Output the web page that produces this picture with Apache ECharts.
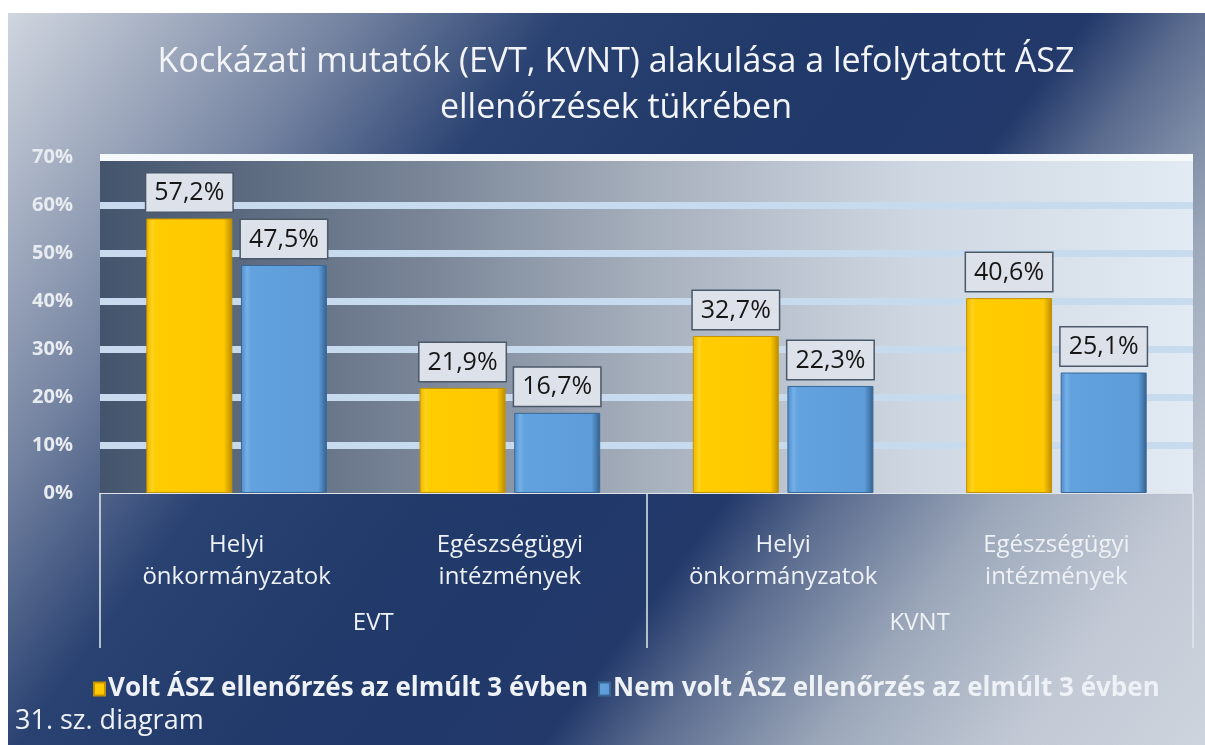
<!DOCTYPE html>
<html>
<head>
<meta charset="utf-8">
<script src="https://cdn.jsdelivr.net/npm/echarts@6/dist/echarts.min.js"></script>
<style>
  html, body { margin: 0; padding: 0; background: #fff; }
  /* panel háttér: átlós gradiens, bal fent világos, középen sötétkék, jobbra lent világos */
  #panel {
    position: absolute; left: 8px; top: 13px; width: 1197px; height: 732px;
    background: linear-gradient(126.9deg, #d0d6df 0%, #7382a0 20%, #2a4272 32%, #213a6a 45%, #22396a 62%, #5b6c8f 68%, #9ca8ba 78%, #c2c9d5 89%, #ced4dd 100%);
  }
  #chart { position: absolute; left: 0; top: 0; width: 1205px; height: 745px; }
</style>
</head>
<body>
<div id="panel"></div>
<div id="chart"></div>
<script>
// kategóriák (alsó szint) és csoportok (felső szint)
const categories = ['Helyi\nönkormányzatok', 'Egészségügyi\nintézmények', 'Helyi\nönkormányzatok', 'Egészségügyi\nintézmények']
const groups = ['EVT', 'KVNT']
const seriesNames = ['Volt ÁSZ ellenőrzés az elmúlt 3 évben', 'Nem volt ÁSZ ellenőrzés az elmúlt 3 évben']
const voltValues = [57.2, 21.9, 32.7, 40.6]
const nemVoltValues = [47.5, 16.7, 22.3, 25.1]
const yTicks = [0, 10, 20, 30, 40, 50, 60, 70]

const TXT = '#eef1f5'
const FONT = '"Open Sans", Lato, sans-serif'
const grad = (stops, x2 = 1, y2 = 0) => new echarts.graphic.LinearGradient(0, 0, x2, y2,
  stops.map(([offset, color]) => ({ offset, color })))

// "kidomborodó" oszlop imitáció: sötétebb szélek
const YELLOW = grad([[0, '#e9b400'], [0.07, '#ffd21c'], [0.12, '#ffcc00'], [0.9, '#ffc800'], [1, '#b98a00']])
const BLUE = grad([[0, '#4d8bc8'], [0.07, '#74b0e8'], [0.12, '#62a2de'], [0.9, '#5d9cd8'], [1, '#335f8e']])

const chart = echarts.init(document.getElementById('chart'), null, { renderer: 'canvas' })

const label = {
  show: true, position: 'top', distance: 7,
  formatter: p => p.value.toFixed(1).replace('.', ',') + '%',
  fontFamily: FONT, fontSize: 25, color: '#161616',
  backgroundColor: '#dde1e9', borderColor: '#4b5868', borderWidth: 1.5,
  padding: [3, 8, 2, 8], lineHeight: 33,
}

chart.setOption({
  backgroundColor: 'transparent',
  textStyle: { fontFamily: FONT },
  title: [
    {
      text: 'Kockázati mutatók (EVT, KVNT) alakulása a lefolytatott ÁSZ\nellenőrzések tükrében',
      left: 611, top: 34, textAlign: 'center',
      textStyle: { color: '#f2f4f7', fontSize: 34, fontWeight: 'normal', lineHeight: 46, fontFamily: FONT },
    },
    {
      text: '31. sz. diagram', left: 10, top: 703,
      textStyle: { color: TXT, fontSize: 27, fontWeight: 'normal', fontFamily: FONT },
    },
  ],
  legend: {
    data: seriesNames, left: 88, top: 671, itemWidth: 11, itemHeight: 13, itemGap: 10,
    icon: 'rect',
    textStyle: { color: TXT, fontSize: 26, fontWeight: 'bold', fontFamily: FONT, padding: [0, 0, 0, -2] },
  },
  grid: {
    left: 100, right: 12, top: 157, bottom: 252, show: true, borderWidth: 0,
    backgroundColor: grad([[0, '#43546c'], [0.3, '#7a8698'], [0.5, '#a6afbc'], [0.75, '#cfd8e2'], [1, '#e2eaf3']]),
  },
  xAxis: [
    {
      type: 'category', data: categories,
      axisLine: { show: true, lineStyle: { color: '#dfe4ea', width: 1 } },
      axisTick: { show: false },
      axisLabel: { color: TXT, fontSize: 24, lineHeight: 32, margin: 36, interval: 0, fontFamily: FONT },
    },
    {
      type: 'category', data: groups, position: 'bottom',
      axisLine: { show: false },
      axisTick: { show: true, interval: 0, length: 155, lineStyle: { color: '#e2e6ec', width: 1.5 } },
      axisLabel: { color: TXT, fontSize: 24, margin: 118, interval: 0, fontFamily: FONT },
      splitLine: { show: false },
    },
  ],
  yAxis: {
    type: 'value', min: yTicks[0], max: yTicks[yTicks.length - 1], interval: 10,
    axisLine: { show: false }, axisTick: { show: false },
    axisLabel: { color: '#e8ecf1', fontSize: 20, fontWeight: 'bold', margin: 27, formatter: '{value}%', fontFamily: FONT },
    splitLine: {
      lineStyle: {
        width: 7,
        color: ['rgba(0,0,0,0)', '#c8dbee', '#c8dbee', '#c8dbee', '#c8dbee', '#c8dbee', '#c8dbee', '#f6f9fc'],
      },
    },
  },
  series: [
    {
      name: seriesNames[0], type: 'bar', data: voltValues, barWidth: 86, barGap: '10%',
      itemStyle: { color: YELLOW, borderColor: '#c59300', borderWidth: 1 },
      label,
    },
    {
      name: seriesNames[1], type: 'bar', data: nemVoltValues, barWidth: 86,
      itemStyle: { color: BLUE, borderColor: '#3a6896', borderWidth: 1 },
      label,
    },
  ],
})
</script>
</body>
</html>
